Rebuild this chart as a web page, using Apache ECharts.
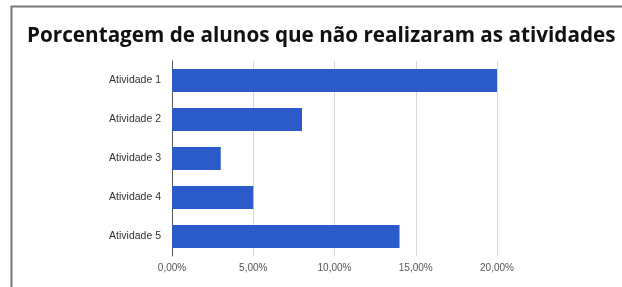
<!DOCTYPE html>
<html>
<head>
<meta charset="utf-8">
<script src="https://cdn.jsdelivr.net/npm/echarts@6/dist/echarts.min.js"></script>
<style>
html,body{margin:0;padding:0;background:#fff;}
#chart{width:622px;height:287px;}
</style>
</head>
<body>
<div id="chart"></div>
<script>
var categories = ["Atividade 1", "Atividade 2", "Atividade 3", "Atividade 4", "Atividade 5"];
var values = [20, 8, 3, 5, 14];

function pct(v){
    return v.toFixed(2).replace(".", ",") + "%";
}

var chart = echarts.init(document.getElementById("chart"));
var option = {
    animation: false,
    backgroundColor: "#fff",
    title: {
        text: "Porcentagem de alunos que não realizaram as atividades",
        left: 22,
        top: 21,
        textStyle: {
            fontFamily: "Open Sans",
            fontWeight: "bold",
            fontSize: 20.7,
            color: "#111"
        }
    },
    graphic: [{
        type: "polyline",
        shape: { points: [[11.5, 300], [11.5, 6.5], [640, 6.5]] },
        style: { stroke: "#777", lineWidth: 2, fill: null },
        silent: true
    }],
    grid: {
        left: 172,
        top: 61,
        width: 325,
        height: 195
    },
    xAxis: {
        type: "value",
        min: 0,
        max: 20,
        interval: 5,
        axisLine: { show: false },
        axisTick: { show: false },
        splitLine: { lineStyle: { color: "#d8d8d8", width: 1 } },
        axisLabel: {
            formatter: pct,
            fontFamily: "Arial",
            fontSize: 10,
            color: "#555",
            margin: 7
        }
    },
    yAxis: {
        type: "category",
        data: categories,
        inverse: true,
        axisLine: { show: true, lineStyle: { color: "#555", width: 1 } },
        axisTick: { show: false },
        axisLabel: {
            fontFamily: "Arial",
            fontSize: 10.5,
            color: "#333",
            margin: 11
        }
    },
    series: [{
        type: "bar",
        data: values,
        barWidth: 23,
        itemStyle: { color: "#2b5bc8" }
    }]
};
chart.setOption(option);
</script>
</body>
</html>
